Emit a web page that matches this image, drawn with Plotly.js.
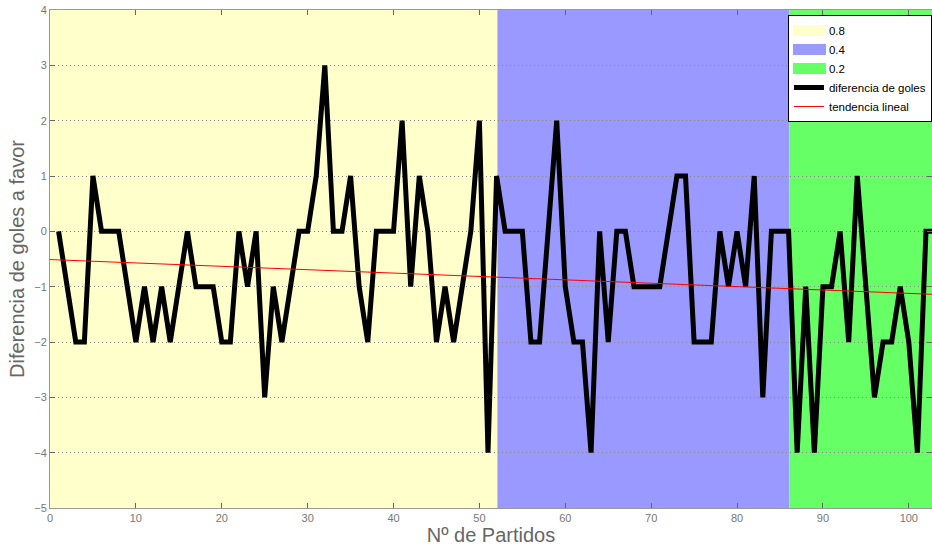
<!DOCTYPE html>
<html><head><meta charset="utf-8">
<script src="https://cdn.plot.ly/plotly-3.0.1.min.js"></script>
<style>html,body{margin:0;padding:0;background:#fff}#chart{width:932px;height:548px}</style>
</head><body><div id="chart"></div>
<script>
const partidos = [1,2,3,4,5,6,7,8,9,10,11,12,13,14,15,16,17,18,19,20,21,22,23,24,25,26,27,28,29,30,
  31,32,33,34,35,36,37,38,39,40,41,42,43,44,45,46,47,48,49,50,51,52,53,54,55,56,57,58,59,60,
  61,62,63,64,65,66,67,68,69,70,71,72,73,74,75,76,77,78,79,80,81,82,83,84,85,86,87,88,89,90,
  91,92,93,94,95,96,97,98,99,100,101,102,103];
const diferencia = [0,-1,-2,-2,1,0,0,0,-1,-2,-1,-2,-1,-2,-1,0,-1,-1,-1,-2,-2,0,-1,0,-3,-1,-2,-1,0,0,
  1,3,0,0,1,-1,-2,0,0,0,2,-1,1,0,-2,-1,-2,-1,0,2,-4,1,0,0,0,-2,-2,0,2,-1,
  -2,-2,-4,0,-2,0,0,-1,-1,-1,-1,0,1,1,-2,-2,-2,0,-1,0,-1,1,-3,0,0,0,-4,-1,-4,-1,
  -1,0,-2,1,-1,-3,-2,-2,-1,-2,-4,0,0];
const trendX = [0, 103];
const trendY = [-0.51, -1.14];
const regionNames = ['0.8', '0.4', '0.2'];
const regionStart = [0, 52.1, 86.1];
const regionEnd = [52.1, 86.1, 103];
const regionColors = ['#FFFFCC', '#9999FF', '#66FF66'];
const xTickVals = [0,10,20,30,40,50,60,70,80,90,100];
const yTickVals = [-5,-4,-3,-2,-1,0,1,2,3,4];

const shapes = regionNames.map((n, i) => ({
  type: 'rect', xref: 'x', yref: 'paper',
  x0: regionStart[i], x1: regionEnd[i], y0: 0, y1: 1,
  fillcolor: regionColors[i], line: {width: 0}, layer: 'below',
  showlegend: true, name: n, legendrank: i + 1
}));

const traces = [
  {x: partidos, y: diferencia, type: 'scatter', mode: 'lines', name: 'diferencia de goles',
   line: {color: '#000', width: 5}, legendrank: 10},
  {x: trendX, y: trendY, type: 'scatter', mode: 'lines', name: 'tendencia lineal',
   line: {color: '#FF0000', width: 1}, legendrank: 11}
];

const axisFont = {family: '"Liberation Sans Narrow", "Liberation Sans", Arial, sans-serif', size: 11, color: '#777'};
const titleFont = {family: '"Liberation Sans", Arial, sans-serif', size: 20, color: '#666'};
const layout = {
  width: 932, height: 548,
  margin: {l: 50, r: 0, t: 10, b: 40, autoexpand: false},
  paper_bgcolor: '#fff', plot_bgcolor: '#fff',
  shapes: shapes,
  showlegend: true,
  legend: {x: 0.8367, y: 0.99, xanchor: 'left', yanchor: 'top', bgcolor: '#fff',
    bordercolor: '#000', borderwidth: 1, tracegroupgap: 0,
    font: {family: '"Liberation Sans", Arial, sans-serif', size: 11.5, color: '#000'}},
  xaxis: {range: [0, 102.7], tickvals: xTickVals, showgrid: false, zeroline: false,
    showline: true, linecolor: '#999', mirror: 'ticks', ticks: 'inside', ticklen: 5,
    tickcolor: '#666', tickfont: axisFont,
    title: {text: 'Nº de Partidos', font: titleFont, standoff: 4}},
  yaxis: {range: [-5, 4], tickvals: yTickVals, showgrid: true, gridcolor: '#888', griddash: '1px,3px',
    gridwidth: 1, zeroline: false, showline: true, linecolor: '#999', mirror: 'ticks',
    ticks: 'inside', ticklen: 5, tickcolor: '#666', tickfont: axisFont,
    title: {text: 'Diferencia de goles a favor', font: titleFont, standoff: 4}}
};

Plotly.newPlot('chart', traces, layout, {displayModeBar: false, staticPlot: true}).then(gd => {
  // widen the legend patches of the coloured regions
  gd.querySelectorAll('.legend .traces').forEach(item => {
    const txt = item.querySelector('.legendtext');
    if (!txt) return;
    const idx = regionNames.indexOf(txt.textContent.trim());
    if (idx < 0) return;
    item.querySelectorAll('path').forEach(p => { p.style.display = 'none'; });
    const r = document.createElementNS('http://www.w3.org/2000/svg', 'rect');
    r.setAttribute('x', 4); r.setAttribute('y', -5.5);
    r.setAttribute('width', 33); r.setAttribute('height', 11);
    r.setAttribute('fill', regionColors[idx]);
    item.insertBefore(r, item.firstChild);
  });
});
</script>
</body></html>
